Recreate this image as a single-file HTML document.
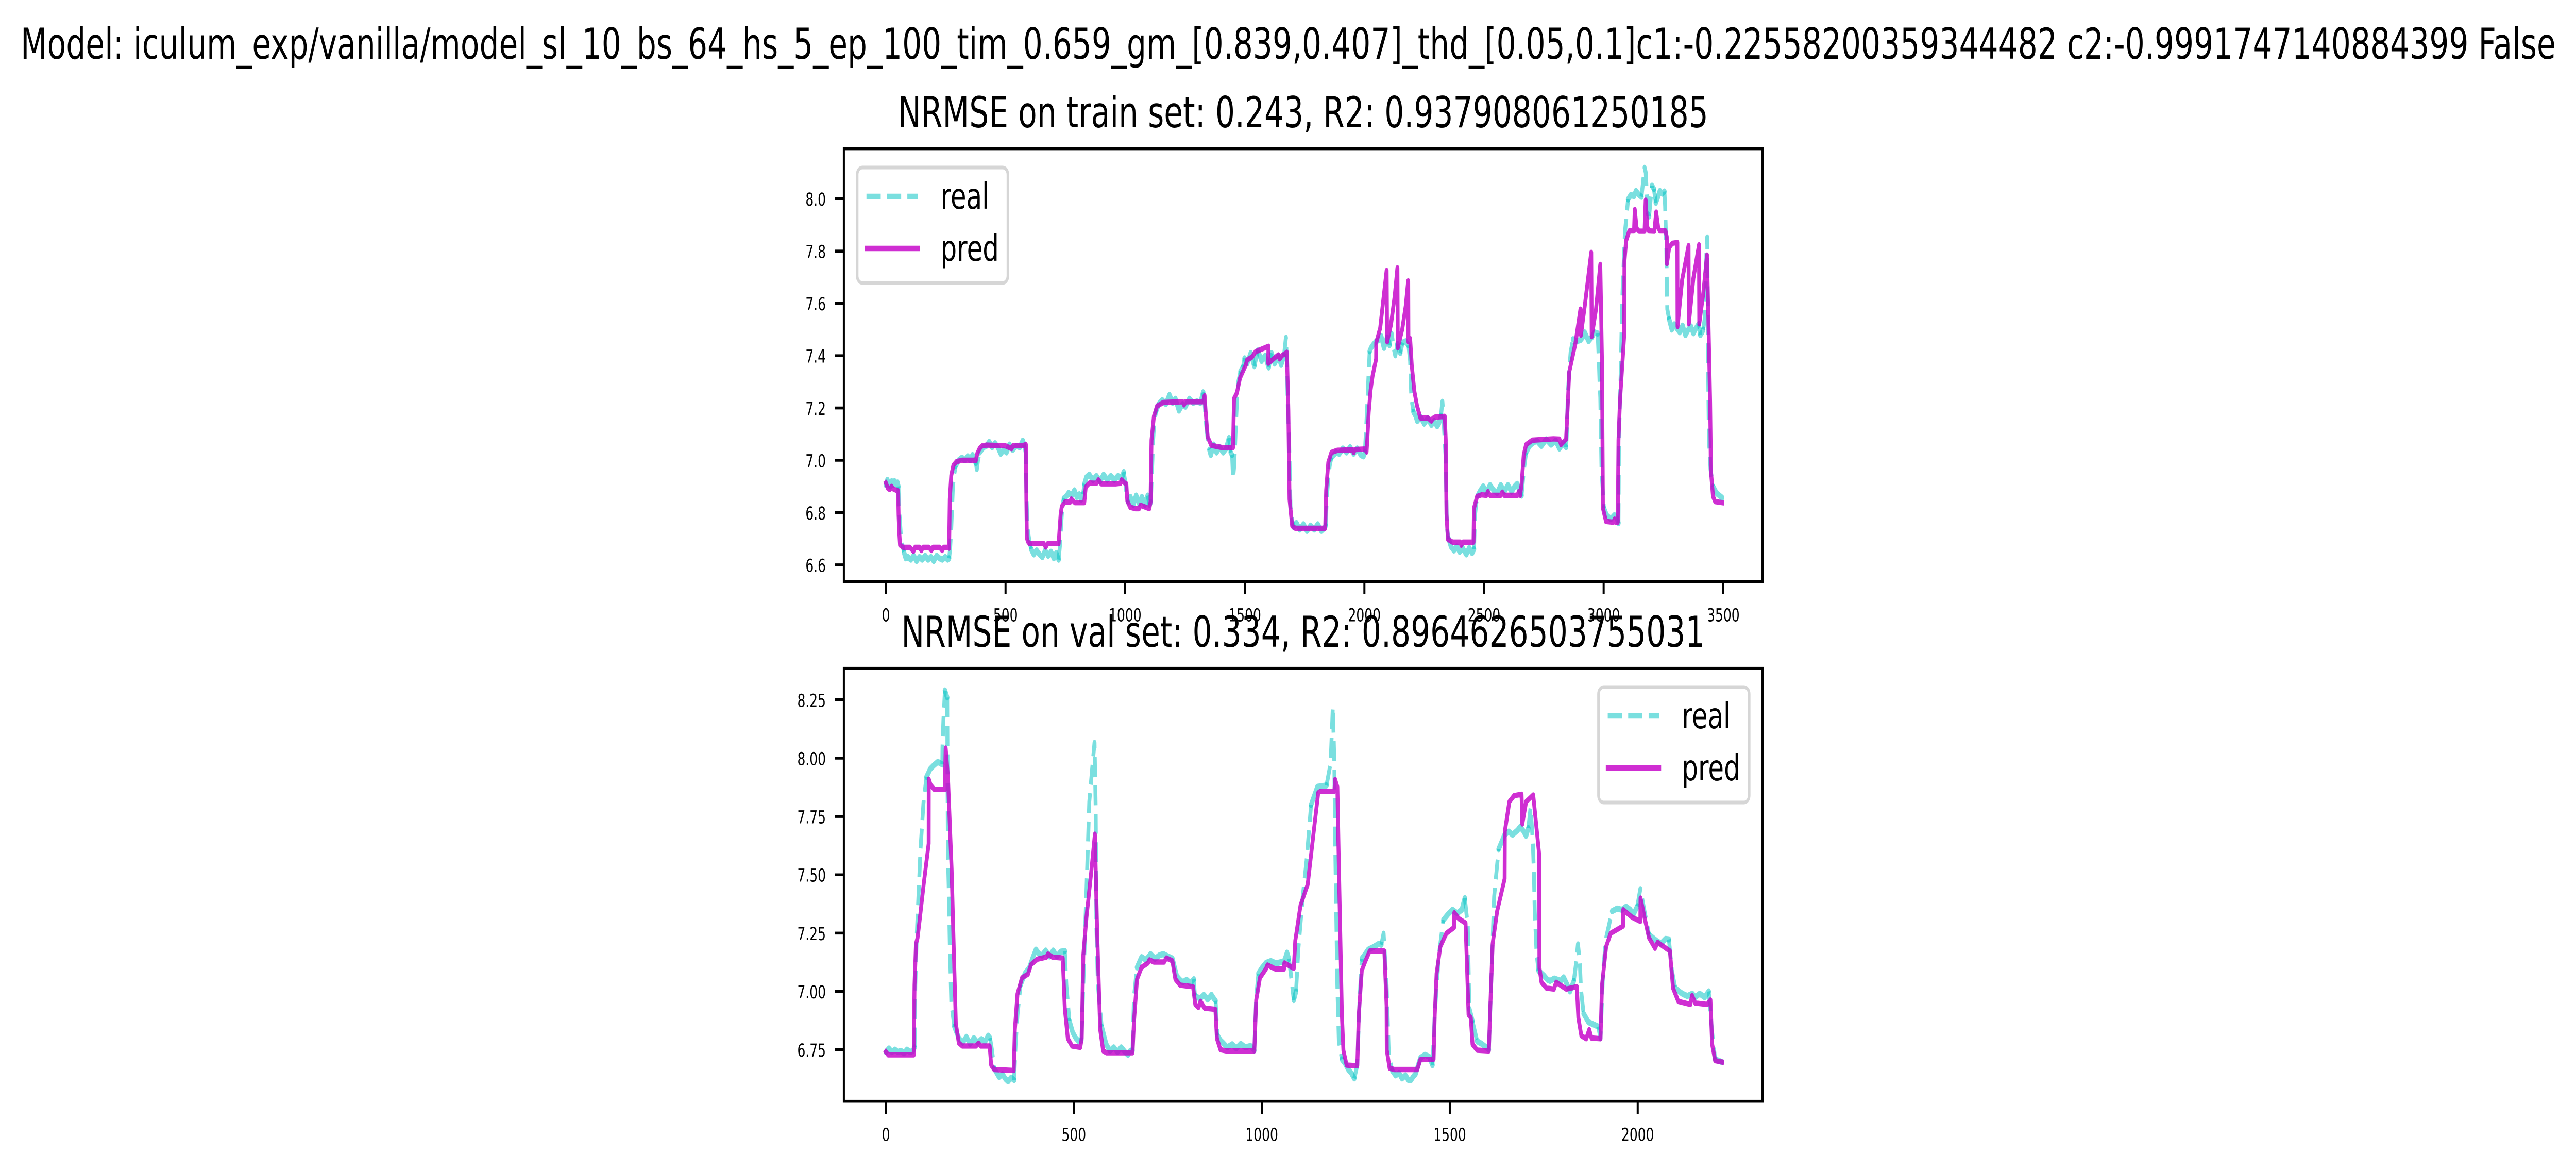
<!DOCTYPE html>
<html lang="en">
<head>
<meta charset="utf-8">
<title>NRMSE real vs pred</title>
<style>
html,body{margin:0;padding:0;background:#fff;width:100%;height:100%;overflow:hidden;}
svg{display:block;position:absolute;left:0;top:0;width:100vw;height:100vh;}
text{font-family:"DejaVu Sans","Liberation Sans",sans-serif;fill:#000;}
.main{font-size:83.33px;}
.leg{font-size:69.44px;}
.tick{font-size:34.72px;}
</style>
</head>
<body>
<svg id="chart" xmlns="http://www.w3.org/2000/svg" viewBox="0 0 6957 2270" preserveAspectRatio="none">
<rect x="0" y="0" width="6957" height="2270" fill="#ffffff"/>
<g id="train-lines"></g>
<g id="val-lines"></g>
<rect x="2279" y="288.6" width="2481" height="840" fill="none" stroke="#000" stroke-width="5.56"/>
<rect x="2279" y="1296.7" width="2481" height="840" fill="none" stroke="#000" stroke-width="5.56"/>
<g id="train-axis"></g>
<g id="val-axis"></g>
<text class="main" x="3479" y="114" text-anchor="middle">Model: iculum_exp/vanilla/model_sl_10_bs_64_hs_5_ep_100_tim_0.659_gm_[0.839,0.407]_thd_[0.05,0.1]c1:-0.22558200359344482 c2:-0.9991747140884399 False</text>
<text class="main" x="3519.5" y="247" text-anchor="middle">NRMSE on train set: 0.243, R2: 0.937908061250185</text>
<text class="main" x="3519.5" y="1255" text-anchor="middle">NRMSE on val set: 0.334, R2: 0.8964626503755031</text>
<g>
<rect x="2315" y="325" width="407" height="224" rx="13.9" ry="13.9" fill="#fff" fill-opacity="0.8" stroke="#ccc" stroke-opacity="0.8" stroke-width="6.94"/>
<line x1="2340" y1="381" x2="2479" y2="381" stroke="#00c1c1" stroke-opacity="0.52" stroke-width="10.42" stroke-dasharray="38.54 16.67"/>
<line x1="2340" y1="482" x2="2479" y2="482" stroke="#c400c8" stroke-opacity="0.82" stroke-width="10.42" stroke-linecap="square"/>
<text class="leg" x="2540" y="405">real</text>
<text class="leg" x="2540" y="506">pred</text>
</g>
<g>
<rect x="4317" y="1333" width="407" height="224" rx="13.9" ry="13.9" fill="#fff" fill-opacity="0.8" stroke="#ccc" stroke-opacity="0.8" stroke-width="6.94"/>
<line x1="4342" y1="1389" x2="4481" y2="1389" stroke="#00c1c1" stroke-opacity="0.52" stroke-width="10.42" stroke-dasharray="38.54 16.67"/>
<line x1="4342" y1="1490" x2="4481" y2="1490" stroke="#c400c8" stroke-opacity="0.82" stroke-width="10.42" stroke-linecap="square"/>
<text class="leg" x="4542" y="1413">real</text>
<text class="leg" x="4542" y="1514">pred</text>
</g>
</svg>
<script>
const trainXTicks = [0,500,1000,1500,2000,2500,3000,3500];
const trainYTicks = [6.6,6.8,7.0,7.2,7.4,7.6,7.8,8.0];
const trainYLabels = ["6.6","6.8","7.0","7.2","7.4","7.6","7.8","8.0"];
const valXTicks = [0,500,1000,1500,2000];
const valYTicks = [6.75,7.0,7.25,7.5,7.75,8.0,8.25];
const valYLabels = ["6.75","7.00","7.25","7.50","7.75","8.00","8.25"];

const trainRealIdx = [
0,6,12,18,24,30,36,42,48,52,
56,62,68,75,83,92,104,116,128,140,
152,164,176,188,200,212,224,236,248,258,
264,268,273,280,286,292,304,318,330,342,
352,362,370,376,380,385,392,400,408,420,
432,444,456,468,480,492,504,516,530,545,
560,572,578,584,588,592,600,607,618,630,
642,654,666,678,690,702,712,722,728,733,
738,744,752,764,776,788,798,808,816,824,
830,838,850,865,880,895,910,925,940,955,
970,985,994,1000,1006,1012,1022,1034,1046,1058,
1070,1082,1094,1102,1107,1112,1117,1122,1130,1140,
1155,1170,1185,1198,1210,1225,1240,1252,1268,1284,
1300,1315,1326,1332,1338,1345,1352,1358,1370,1382,
1395,1410,1422,1434,1441,1447,1451,1455,1459,1463,
1468,1473,1482,1492,1499,1510,1525,1540,1555,1570,
1585,1600,1612,1625,1640,1652,1664,1672,1676,1680,
1685,1691,1698,1704,1716,1730,1745,1760,1775,1790,
1805,1820,1832,1838,1843,1849,1855,1862,1872,1881,
1895,1910,1925,1940,1955,1970,1985,1996,2002,2007,
2012,2016,2022,2028,2035,2049,2060,2070,2082,2095,
2105,2114,2122,2129,2138,2150,2160,2172,2184,2191,
2196,2205,2214,2221,2235,2250,2265,2280,2292,2304,
2311,2320,2326,2330,2334,2339,2345,2352,2362,2374,
2386,2398,2410,2426,2438,2450,2458,2462,2468,2474,
2485,2497,2510,2525,2540,2555,2570,2585,2600,2615,
2628,2638,2648,2657,2666,2676,2690,2702,2720,2740,
2760,2780,2800,2815,2830,2843,2846,2850,2856,2862,
2872,2885,2903,2912,2921,2930,2937,2950,2962,2975,
2980,2983,2986,2991,3001,3013,3030,3045,3055,3062,
3064,3068,3071,3075,3079,3089,3094,3102,3114,3127,
3135,3148,3158,3164,3171,3176,3182,3186,3190,3195,
3202,3210,3218,3226,3235,3245,3254,3257,3259,3262,
3264,3266,3274,3285,3295,3305,3318,3330,3342,3354,
3365,3375,3386,3398,3404,3412,3416,3424,3430,3433,
3435,3437,3440,3447,3457,3472,3495
];
const trainRealVal = [
6.905,6.925,6.91,6.90,6.92,6.905,6.92,6.91,6.915,6.90,
6.80,6.72,6.68,6.65,6.625,6.63,6.62,6.635,6.615,6.63,
6.62,6.635,6.62,6.63,6.615,6.635,6.625,6.62,6.63,6.62,
6.625,6.66,6.74,6.90,6.95,6.98,7.0,7.01,7.0,7.015,
7.0,7.02,7.0,6.99,6.965,7.0,7.03,7.04,7.05,7.055,
7.07,7.05,7.065,7.05,7.025,7.04,7.03,7.06,7.04,7.055,
7.05,7.075,7.06,7.03,6.85,6.74,6.69,6.66,6.64,6.655,
6.64,6.63,6.655,6.635,6.65,6.625,6.645,6.62,6.68,6.76,
6.83,6.855,6.86,6.875,6.865,6.885,6.86,6.87,6.85,6.87,
6.91,6.935,6.945,6.925,6.94,6.92,6.945,6.925,6.94,6.925,
6.94,6.93,6.955,6.92,6.87,6.84,6.86,6.83,6.865,6.835,
6.86,6.83,6.865,6.83,6.84,6.96,7.08,7.15,7.19,7.215,
7.23,7.215,7.25,7.22,7.235,7.19,7.215,7.205,7.235,7.22,
7.225,7.22,7.26,7.22,7.14,7.08,7.04,7.02,7.06,7.03,
7.05,7.03,7.045,7.085,7.03,7.02,6.93,6.97,7.05,7.145,
7.24,7.30,7.34,7.355,7.39,7.37,7.41,7.36,7.42,7.38,
7.40,7.355,7.41,7.37,7.40,7.365,7.40,7.47,7.38,7.20,
7.08,6.82,6.77,6.745,6.76,6.735,6.755,6.73,6.75,6.735,
6.755,6.73,6.74,6.75,6.86,6.93,6.98,7.01,7.02,7.03,
7.025,7.045,7.03,7.05,7.025,7.045,7.02,7.015,7.03,7.12,
7.21,7.30,7.417,7.43,7.44,7.455,7.46,7.475,7.43,7.47,
7.44,7.485,7.43,7.40,7.445,7.41,7.45,7.455,7.44,7.38,
7.24,7.185,7.17,7.15,7.165,7.14,7.16,7.135,7.15,7.13,
7.14,7.17,7.225,7.17,7.10,7.02,6.74,6.70,6.67,6.655,
6.67,6.65,6.665,6.64,6.665,6.645,6.66,6.79,6.84,6.865,
6.885,6.90,6.875,6.905,6.885,6.875,6.905,6.88,6.905,6.88,
6.90,6.91,6.885,6.865,6.96,7.03,7.055,7.065,7.075,7.055,
7.08,7.06,7.075,7.045,7.065,7.05,7.10,7.25,7.34,7.414,
7.463,7.455,7.46,7.47,7.489,7.47,7.456,7.47,7.489,7.485,
7.38,7.296,7.24,6.964,6.817,6.789,6.775,6.79,6.778,6.76,
7.077,7.22,7.315,7.50,7.643,7.873,7.919,7.998,8.015,8.01,
8.03,8.015,8.008,8.057,8.12,8.10,7.985,7.94,7.933,7.985,
8.05,8.038,7.985,8.005,8.03,8.02,8.028,7.972,7.906,7.808,
7.69,7.578,7.539,7.50,7.52,7.506,7.49,7.515,7.479,7.50,
7.512,7.486,7.505,7.522,7.479,7.49,7.50,7.55,7.80,7.854,
7.65,7.33,7.08,6.964,6.90,6.874,6.857
];
const trainPredIdx = [
0,8,16,23,30,42,51,53,56,59,
72,100,115,122,140,148,155,180,190,197,
225,235,242,255,264,267,273,282,295,318,
376,382,392,402,421,500,525,532,540,575,
585,587,589,593,600,613,660,668,676,722,
726,730,735,748,770,775,790,829,835,842,
851,880,888,900,960,980,985,998,1005,1009,
1021,1043,1058,1064,1101,1106,1110,1120,1133,1159,
1240,1246,1252,1326,1332,1336,1345,1360,1409,1451,
1455,1467,1480,1505,1509,1530,1545,1557,1599,1598,
1640,1646,1655,1676,1682,1687,1698,1711,1790,1836,
1840,1849,1862,1887,1950,1955,1960,2003,2009,2012,
2018,2026,2034,2049,2049.5,2066,2078,2093,2095,2111,
2127,2138,2139.6,2158,2173,2183,2184,2191,2198,2209,
2219.6,2234,2266,2280,2286,2295,2336,2340,2343,2349,
2368,2400,2405,2412,2456,2458,2471,2490,2510,2516,
2525,2570,2576,2585,2640,2645,2651,2657,2666,2676,
2702,2790,2815,2822,2843,2850,2856,2882,2903,2905,
2921,2948,2950,2968,2986,2993,2996,2997,3010,3040,
3046,3050,3059,3062,3068,3086,3087,3094,3107,3127,
3130,3138,3148,3171,3175.5,3182,3189,3212,3219.5,3228,
3235,3258.6,3264,3264.5,3274,3287,3308,3309,3328,3355,
3356,3375,3398.6,3399.6,3417,3432,3440,3445,3447,3448,
3457,3466,3495
];
const trainPredVal = [
6.913,6.893,6.888,6.90,6.891,6.886,6.883,6.79,6.72,6.676,
6.667,6.667,6.652,6.667,6.667,6.655,6.667,6.667,6.655,6.667,
6.667,6.655,6.667,6.667,6.664,6.851,6.942,6.981,6.995,7.0,
7.0,7.026,7.046,7.055,7.058,7.055,7.045,7.056,7.056,7.057,
7.06,6.85,6.704,6.69,6.681,6.681,6.681,6.668,6.681,6.681,
6.738,6.79,6.823,6.84,6.84,6.852,6.838,6.838,6.896,6.905,
6.913,6.912,6.925,6.91,6.91,6.912,6.925,6.913,6.91,6.845,
6.82,6.815,6.815,6.828,6.815,6.84,7.077,7.168,7.207,7.221,
7.224,7.212,7.224,7.224,7.247,7.19,7.089,7.057,7.048,7.049,
7.236,7.258,7.315,7.366,7.383,7.395,7.415,7.42,7.436,7.371,
7.403,7.388,7.40,7.413,7.19,6.851,6.749,6.74,6.74,6.74,
6.885,6.992,7.03,7.038,7.04,7.03,7.041,7.043,7.032,7.077,
7.184,7.269,7.322,7.388,7.45,7.506,7.604,7.726,7.453,7.519,
7.631,7.736,7.43,7.50,7.591,7.686,7.453,7.466,7.361,7.263,
7.21,7.162,7.162,7.15,7.16,7.165,7.168,7.077,6.795,6.698,
6.687,6.687,6.675,6.687,6.687,6.817,6.862,6.868,6.866,6.88,
6.866,6.866,6.878,6.866,6.866,6.88,6.866,6.908,7.021,7.06,
7.077,7.082,7.081,7.06,7.081,7.213,7.337,7.447,7.578,7.479,
7.59,7.795,7.473,7.578,7.749,7.381,6.964,6.817,6.766,6.763,
6.775,6.763,6.763,7.077,7.223,7.479,7.762,7.84,7.877,7.877,
7.959,7.886,7.876,7.876,7.995,7.893,7.877,7.876,7.949,7.89,
7.877,7.877,7.854,7.752,7.814,7.83,7.833,7.512,7.69,7.821,
7.522,7.696,7.824,7.522,7.643,7.785,7.447,7.223,7.077,6.964,
6.862,6.842,6.838
];

const valRealIdx = [
0,8,16,24,32,40,48,56,64,72,
76,78,82,92,100,108,118,128,138,150,
150.5,153,157,163,163.5,165,167,170,174,182,
194,204,214,224,234,244,254,264,272,277,
282,288,295,301,310,318,325,333,341,345,
350,358,370,382,392,399,408,415,425,435,
445,455,465,476,480,488,497,505,513,520,
525,533,541,550,555,558,560,564,574,586,
596,606,616,626,636,644,650,656,660,668,
680,692,704,716,728,738,750,762,774,782,
790,800,810,819,822,828,836,846,856,866,
872,877,882,890,897,908,921,932,944,956,
970,980,985,991,1000,1011,1024,1038,1050,1060,
1067,1072,1077,1085,1091,1097,1109,1119,1131,1148,
1160,1172,1183,1189,1193,1195,1201,1205,1213,1222,
1230,1238,1246,1254,1260,1266,1275,1283,1297,1311,
1318,1324,1332,1338,1347,1356,1365,1373,1382,1390,
1397,1403,1409,1422,1434,1445,1454,1460,1471,1483,
1495,1507,1520,1532,1540,1548,1552,1560,1573,1585,
1597,1604,1610,1618,1630,1646,1657,1667,1680,1687,
1695,1703,1709,1715,1721,1724,1726,1731,1736,1751,
1760,1767,1778,1787,1795,1803,1812,1820,1830,1836,
1841,1846,1849,1856,1869,1880,1895,1901,1908,1916,
1932,1945,1958,1969,1980,1989,1999,2007,2018,2030,
2040,2050,2062,2074,2083,2091,2100,2110,2120,2132,
2145,2153,2165,2178,2189,2198,2206,2224
];
const valRealVal = [
6.74,6.755,6.74,6.75,6.74,6.745,6.735,6.75,6.74,6.745,
6.76,7.027,7.24,7.61,7.81,7.92,7.954,7.97,7.984,7.973,
8.046,8.164,8.29,8.26,8.084,7.575,7.457,7.2,6.95,6.849,
6.80,6.78,6.805,6.775,6.80,6.78,6.795,6.785,6.81,6.80,
6.75,6.67,6.65,6.633,6.645,6.625,6.614,6.63,6.62,6.773,
6.90,7.027,7.077,7.103,7.15,7.179,7.16,7.154,7.175,7.15,
7.175,7.15,7.17,7.173,7.027,6.874,6.824,6.80,6.786,6.79,
7.027,7.407,7.813,7.978,8.067,7.788,7.28,7.027,6.849,6.773,
6.745,6.76,6.74,6.76,6.74,6.728,6.745,6.747,6.976,7.103,
7.147,7.135,7.16,7.14,7.155,7.16,7.15,7.141,7.065,7.05,
7.039,7.05,7.035,7.052,6.982,6.975,6.97,6.985,6.965,6.985,
6.97,6.96,6.811,6.79,6.779,6.76,6.773,6.755,6.775,6.76,
6.766,6.747,6.976,7.077,7.10,7.122,7.13,7.12,7.125,7.13,
7.166,7.14,7.077,6.963,7.0,7.179,7.407,7.56,7.80,7.877,
7.88,7.883,7.978,8.22,7.978,7.66,7.027,6.786,6.709,6.69,
6.665,6.65,6.627,6.684,6.963,7.14,7.16,7.179,7.19,7.204,
7.20,7.249,7.027,6.722,6.66,6.64,6.65,6.627,6.64,6.62,
6.62,6.635,6.646,6.715,6.728,6.72,6.684,6.90,7.154,7.306,
7.33,7.35,7.335,7.35,7.40,7.28,6.925,6.874,6.786,6.775,
6.76,6.75,7.027,7.407,7.61,7.672,7.685,7.672,7.69,7.705,
7.69,7.667,7.70,7.788,7.641,7.494,7.346,7.162,7.089,7.067,
7.05,7.045,7.055,7.05,7.045,7.06,7.03,7.0,7.045,7.12,
7.203,7.125,7.008,6.905,6.868,6.86,6.849,6.797,7.09,7.23,
7.344,7.355,7.35,7.363,7.35,7.331,7.365,7.44,7.344,7.243,
7.23,7.217,7.205,7.225,7.223,7.09,7.014,7.0,6.989,6.98,
6.99,6.975,6.99,6.975,7.0,6.823,6.709,6.697
];
const valPredIdx = [
0,6,74,76,80,84,89.4,100.8,113.8,114,
118.8,128.7,156.7,159,164.9,174.7,179.7,186,194,203,
240,246,252,276,280,288,340,343,350,362,
378,386,403,427,431,443,470.5,476,484,495,
517,521,525,533.5,546,556,562,570,578,586.5,
656,660,668,680,697,701,713,740,746,762,
770,782.5,817,823,831.5,837,848,876.5,880.5,890,
905,980,985,995,1011,1015,1036,1059,1060,1085,
1089,1103,1122,1140,1150,1156,1193,1195,1201,1205,
1213,1217,1225.6,1254,1258,1266,1275,1287,1326,1332,
1332.5,1340,1352,1413.5,1421.6,1457,1460,1465,1475,1491,
1511.5,1512,1524,1542,1546,1550,1556,1560.5,1573,1604,
1607,1614,1626,1646,1646.5,1658.5,1671,1691,1693,1703,
1722,1738,1738.5,1744,1757,1777,1783,1810,1838,1842,
1850,1863,1871,1877,1901,1905,1916,1928,1961,1961.5,
1985,2007,2007.5,2018,2030,2046,2053,2085.6,2094,2108,
2140,2144.5,2153,2185,2193.5,2198,2206,2224.5
];
const valPredVal = [
6.741,6.728,6.728,7.027,7.204,7.229,7.302,7.464,7.634,7.91,
7.885,7.866,7.866,8.043,7.921,7.523,7.229,6.862,6.779,6.766,
6.766,6.778,6.766,6.766,6.684,6.665,6.661,6.836,6.989,7.058,
7.074,7.115,7.138,7.147,7.16,7.147,7.143,6.925,6.798,6.766,
6.76,6.798,7.154,7.318,7.509,7.674,7.255,6.836,6.745,6.737,
6.737,6.874,7.052,7.103,7.122,7.135,7.126,7.126,7.143,7.131,
7.052,7.027,7.02,6.944,6.931,6.957,6.928,6.923,6.798,6.75,
6.745,6.745,6.963,7.058,7.096,7.113,7.096,7.096,7.122,7.099,
7.217,7.369,7.458,7.712,7.851,7.858,7.858,7.909,7.877,7.534,
6.9,6.747,6.684,6.681,6.9,7.09,7.128,7.173,7.173,6.938,
6.748,6.671,6.665,6.665,6.707,6.709,6.9,7.077,7.192,7.249,
7.274,7.337,7.312,7.293,7.1,6.90,6.887,6.773,6.748,6.745,
6.9,7.204,7.344,7.483,7.686,7.813,7.839,7.845,7.718,7.813,
7.842,7.585,7.103,7.039,7.014,7.01,7.039,7.01,7.02,6.887,
6.81,6.797,6.836,6.8,6.797,7.027,7.192,7.249,7.28,7.35,
7.318,7.3,7.4,7.318,7.23,7.185,7.21,7.173,7.014,6.957,
6.944,6.982,6.95,6.944,6.963,6.773,6.703,6.697
];

const SVGNS = "http://www.w3.org/2000/svg";
const axesLeft = 2279, axesRight = 4760;

function linearScale(domainLo, domainHi, pxLo, pxHi) {
  return function (v) {
    return pxLo + (v - domainLo) * (pxHi - pxLo) / (domainHi - domainLo);
  };
}

const trainX = linearScale(-175.8, 3664, axesLeft, axesRight);
const trainY = linearScale(6.5356, 8.1915, 1128.6, 288.6);
const valX = linearScale(-111.9, 2332, axesLeft, axesRight);
const valY = linearScale(6.5288, 8.3851, 2136.7, 1296.7);

function linePath(idx, vals, xFn, yFn) {
  let d = "";
  const n = Math.min(idx.length, vals.length);
  for (let i = 0; i < n; i++) {
    d += (i ? "L" : "M") + xFn(idx[i]).toFixed(1) + " " + yFn(vals[i]).toFixed(1);
  }
  return d;
}

/* The noisy plateaus of the real series read as a continuous band in the
   reference, while its steep transitions show the dash pattern. */
function splitBySteepness(idx, vals, xFn, yFn) {
  let flat = "", steep = "", lastKind = "";
  const n = Math.min(idx.length, vals.length);
  for (let i = 1; i < n; i++) {
    const x0 = xFn(idx[i - 1]), y0 = yFn(vals[i - 1]);
    const x1 = xFn(idx[i]), y1 = yFn(vals[i]);
    const kind = Math.abs(y1 - y0) > 3 * Math.abs(x1 - x0) ? "steep" : "flat";
    let seg = "L" + x1.toFixed(1) + " " + y1.toFixed(1);
    if (kind !== lastKind) {
      seg = "M" + x0.toFixed(1) + " " + y0.toFixed(1) + seg;
    }
    if (kind === "flat") { flat += seg; } else { steep += seg; }
    lastKind = kind;
  }
  return { flat: flat, steep: steep };
}

function drawReal(groupId, idx, vals, xFn, yFn, name) {
  const parts = splitBySteepness(idx, vals, xFn, yFn);
  const g = document.getElementById(groupId);
  const band = document.createElementNS(SVGNS, "path");
  band.setAttribute("d", parts.flat);
  band.setAttribute("fill", "none");
  band.setAttribute("stroke", "#00c1c1");
  band.setAttribute("stroke-opacity", "0.52");
  band.setAttribute("stroke-width", "12");
  band.setAttribute("stroke-linejoin", "round");
  band.setAttribute("stroke-linecap", "round");
  
  
  g.appendChild(band);
  const dash = document.createElementNS(SVGNS, "path");
  dash.setAttribute("d", parts.steep);
  dash.setAttribute("fill", "none");
  dash.setAttribute("stroke", "#00c1c1");
  dash.setAttribute("stroke-opacity", "0.52");
  dash.setAttribute("stroke-width", "10.42");
  dash.setAttribute("stroke-linejoin", "round");
  dash.setAttribute("stroke-dasharray", "38.54 16.67");
  
  
  g.appendChild(dash);
}

function drawPred(groupId, idx, vals, xFn, yFn, name) {
  const p = document.createElementNS(SVGNS, "path");
  p.setAttribute("d", linePath(idx, vals, xFn, yFn));
  p.setAttribute("fill", "none");
  p.setAttribute("stroke-width", "10.42");
  p.setAttribute("stroke-linejoin", "round");
  p.setAttribute("stroke", "#c400c8");
  p.setAttribute("stroke-opacity", "0.82");
  p.setAttribute("stroke-linecap", "square");
  
  
  document.getElementById(groupId).appendChild(p);
}

function drawAxis(groupId, xTicks, yTicks, yLabels, xFn, yFn, bottom) {
  const g = document.getElementById(groupId);
  xTicks.forEach(function (t) {
    const x = xFn(t);
    const m = document.createElementNS(SVGNS, "line");
    m.setAttribute("x1", x);
    m.setAttribute("x2", x);
    m.setAttribute("y1", bottom);
    m.setAttribute("y2", bottom + 24.3);
    m.setAttribute("stroke", "#000");
    m.setAttribute("stroke-width", "5.56");
    
    
    g.appendChild(m);
    const l = document.createElementNS(SVGNS, "text");
    l.setAttribute("class", "tick");
    l.setAttribute("x", x);
    l.setAttribute("y", bottom + 77);
    l.setAttribute("text-anchor", "middle");
    l.textContent = String(t);
    
    
    g.appendChild(l);
  });
  yTicks.forEach(function (t, i) {
    const y = yFn(t);
    const m = document.createElementNS(SVGNS, "line");
    m.setAttribute("x1", axesLeft - 24.3);
    m.setAttribute("x2", axesLeft);
    m.setAttribute("y1", y);
    m.setAttribute("y2", y);
    m.setAttribute("stroke", "#000");
    m.setAttribute("stroke-width", "5.56");
    
    
    g.appendChild(m);
    const l = document.createElementNS(SVGNS, "text");
    l.setAttribute("class", "tick");
    l.setAttribute("x", axesLeft - 48.6);
    l.setAttribute("y", y + 13.5);
    l.setAttribute("text-anchor", "end");
    l.textContent = yLabels[i];
    
    
    g.appendChild(l);
  });
}

drawReal("train-lines", trainRealIdx, trainRealVal, trainX, trainY, "train-real-line");
drawPred("train-lines", trainPredIdx, trainPredVal, trainX, trainY, "train-pred-line");
drawReal("val-lines", valRealIdx, valRealVal, valX, valY, "val-real-line");
drawPred("val-lines", valPredIdx, valPredVal, valX, valY, "val-pred-line");
drawAxis("train-axis", trainXTicks, trainYTicks, trainYLabels, trainX, trainY, 1128.6);
drawAxis("val-axis", valXTicks, valYTicks, valYLabels, valX, valY, 2136.7);
</script>
</body>
</html>
